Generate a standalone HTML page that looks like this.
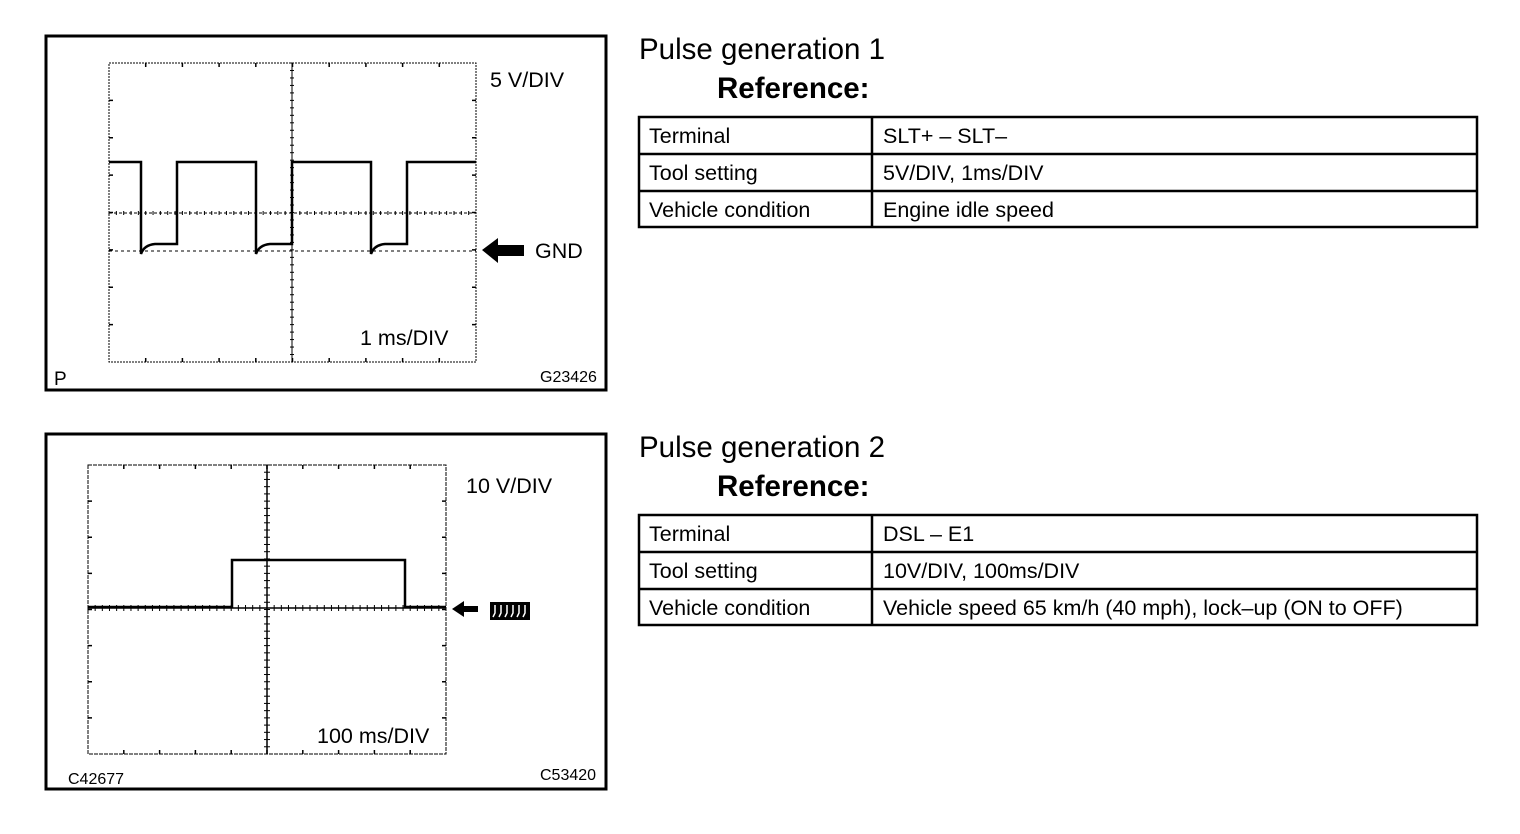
<!DOCTYPE html>
<html><head><meta charset="utf-8"><style>
html,body{margin:0;padding:0;background:#fff}
svg{display:block}
text{font-family:"Liberation Sans",sans-serif;fill:#000}
</style></head><body>
<svg id="s" width="1520" height="834" viewBox="0 0 1520 834" xmlns="http://www.w3.org/2000/svg">
<rect x="46" y="36" width="560" height="354" fill="none" stroke="#000" stroke-width="3"/>
<rect x="109" y="63" width="367" height="299" fill="none" stroke="#000" stroke-width="1" stroke-dasharray="2,1"/>
<line x1="292" y1="63" x2="292" y2="362" stroke="#000" stroke-width="1"/>
<line x1="109" y1="213" x2="476" y2="213" stroke="#000" stroke-width="1" stroke-dasharray="3,2"/>
<line x1="109" y1="251" x2="476" y2="251" stroke="#000" stroke-width="1" stroke-dasharray="3,3"/>
<path d="M109 162 H141 V254 Q144 245 155 244 H177 V162 H256 V254 Q259 245 270 244 H292 V162 H371 V254 Q374 245 385 244 H407 V162 H476" fill="none" stroke="#000" stroke-width="2.5"/>
<text x="490" y="87" font-size="21.5">5 V/DIV</text>
<polygon points="482,250 498,238 498,245 524,245 524,256 498,256 498,263" fill="#000"/>
<text x="535" y="258" font-size="21.5">GND</text>
<text x="360" y="345" font-size="21.5">1 ms/DIV</text>
<text x="54" y="385" font-size="19">P</text>
<text x="540" y="382" font-size="16">G23426</text>
<g id="t1"></g>
<rect x="46" y="434" width="560" height="355" fill="none" stroke="#000" stroke-width="3"/>
<rect x="88" y="465" width="358" height="289" fill="none" stroke="#000" stroke-width="1" stroke-dasharray="4,1"/>
<line x1="267" y1="465" x2="267" y2="754" stroke="#000" stroke-width="1.5"/>
<line x1="88" y1="608" x2="446" y2="608" stroke="#000" stroke-width="1.5"/>
<path d="M88 607 H232 V560 H405 V607 H446" fill="none" stroke="#000" stroke-width="2.5"/>
<text x="466" y="493" font-size="21.5">10 V/DIV</text>
<polygon points="452,609 464,601 464,606 478,606 478,612 464,612 464,617" fill="#000"/>
<rect x="490" y="602" width="40" height="18" fill="#000"/>
<path d="M495 605 v8 l-2 4 M501 605 v8 l-2 4 M507 605 v8 l-2 4 M513 605 v8 l-2 4 M519 605 v8 l-2 4 M525 605 v8 l-2 4" stroke="#fff" stroke-width="1.5" fill="none"/>
<text x="317" y="743" font-size="21.5">100 ms/DIV</text>
<text x="68" y="784" font-size="16">C42677</text>
<text x="540" y="780" font-size="16">C53420</text>
<g id="t2"></g>
<text x="639" y="59" font-size="29.5">Pulse generation 1</text>
<text x="717" y="98" font-size="29.5" font-weight="bold">Reference:</text>
<g fill="none" stroke="#000" stroke-width="2.5">
<rect x="639" y="117" width="838" height="110"/>
<line x1="639" y1="154" x2="1477" y2="154"/><line x1="639" y1="191" x2="1477" y2="191"/>
<line x1="872" y1="117" x2="872" y2="227"/>
<rect x="639" y="515" width="838" height="110"/>
<line x1="639" y1="552" x2="1477" y2="552"/><line x1="639" y1="589" x2="1477" y2="589"/>
<line x1="872" y1="515" x2="872" y2="625"/>
</g>
<g font-size="21.5">
<text x="649" y="143">Terminal</text><text x="883" y="143">SLT+ – SLT–</text>
<text x="649" y="180">Tool setting</text><text x="883" y="180">5V/DIV, 1ms/DIV</text>
<text x="649" y="217">Vehicle condition</text><text x="883" y="217">Engine idle speed</text>
<text x="649" y="541">Terminal</text><text x="883" y="541">DSL – E1</text>
<text x="649" y="578">Tool setting</text><text x="883" y="578">10V/DIV, 100ms/DIV</text>
<text x="649" y="615">Vehicle condition</text><text x="883" y="615">Vehicle speed 65 km/h (40 mph), lock–up (ON to OFF)</text>
</g>
<text x="639" y="457" font-size="29.5">Pulse generation 2</text>
<text x="717" y="496" font-size="29.5" font-weight="bold">Reference:</text>
</svg>
<script>
function L(g,x1,y1,x2,y2,w){var l=document.createElementNS("http://www.w3.org/2000/svg","line");l.setAttribute("x1",x1);l.setAttribute("y1",y1);l.setAttribute("x2",x2);l.setAttribute("y2",y2);l.setAttribute("stroke","#000");l.setAttribute("stroke-width",w||1);g.appendChild(l);}
var g1=document.getElementById("t1");
var dx=367/10,dy=299/8;
for(var i=1;i<10;i++){var x=109+i*dx;L(g1,x,63,x,67,1.5);L(g1,x,358,x,362,1.5);}
for(var j=1;j<8;j++){var y=63+j*dy;L(g1,109,y,113,y,1.5);L(g1,472,y,476,y,1.5);}
for(var k=0;k<50;k++){var x=109+k*dx/5;L(g1,x,211,x,215,1);}
for(var k=0;k<40;k++){var y=63+k*dy/5;L(g1,290,y,294,y,1);}
var g2=document.getElementById("t2");
var ex=358/10,ey=289/8;
for(var i=1;i<10;i++){var x=88+i*ex;L(g2,x,465,x,469,1.5);L(g2,x,750,x,754,1.5);}
for(var j=1;j<8;j++){var y=465+j*ey;L(g2,88,y,92,y,1.5);L(g2,442,y,446,y,1.5);}
for(var k=0;k<50;k++){var x=88+k*ex/5;L(g2,x,605,x,611,1);}
for(var k=0;k<40;k++){var y=465+k*ey/5;L(g2,264,y,270,y,1);}
</script>
</body></html>
